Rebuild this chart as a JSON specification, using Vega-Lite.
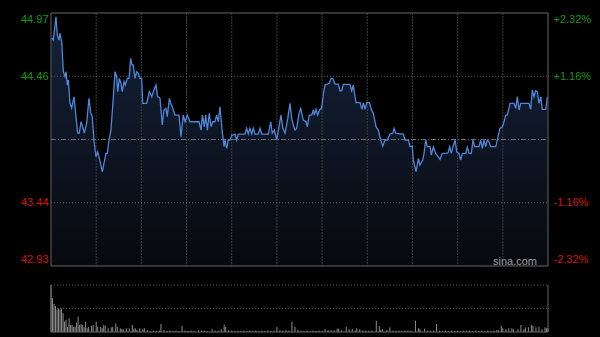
{
  "$schema": "https://vega.github.io/schema/vega-lite/v6.json",
  "width": 497,
  "height": 319,
  "autosize": {"type": "none"},
  "padding": {"left": 51, "top": 13, "right": 52, "bottom": 5},
  "background": "#000000",
  "config": {"view": {"stroke": null}, "font": "Liberation Sans"},
  "datasets": {
    "price": [
      {"t":0.5,"p":44.766},{"t":1.5,"p":44.752},{"t":3.3,"p":44.94},{"t":4.2,"p":44.793},{"t":5.3,"p":44.752},{"t":6.0,"p":44.806},{"t":7.1,"p":44.739},{"t":8.2,"p":44.497},{"t":9.3,"p":44.456},{"t":10.0,"p":44.497},{"t":10.8,"p":44.389},{"t":11.5,"p":44.43},{"t":12.6,"p":44.244},{"t":13.7,"p":44.204},{"t":15.3,"p":44.295},{"t":16.6,"p":44.134},{"t":17.7,"p":44.002},{"t":18.8,"p":44.002},{"t":19.9,"p":44.093},{"t":21.0,"p":44.053},{"t":22.1,"p":44.002},{"t":23.7,"p":44.083},{"t":25.2,"p":44.282},{"t":26.4,"p":44.164},{"t":27.4,"p":44.134},{"t":28.6,"p":43.932},{"t":29.9,"p":43.811},{"t":31.0,"p":43.851},{"t":32.1,"p":43.798},{"t":34.1,"p":43.69},{"t":35.4,"p":43.771},{"t":36.5,"p":43.838},{"t":37.4,"p":43.838},{"t":38.5,"p":43.946},{"t":39.8,"p":44.026},{"t":41.4,"p":44.295},{"t":42.5,"p":44.497},{"t":43.6,"p":44.456},{"t":44.3,"p":44.335},{"t":45.4,"p":44.443},{"t":46.5,"p":44.403},{"t":47.3,"p":44.335},{"t":48.5,"p":44.416},{"t":49.3,"p":44.389},{"t":50.7,"p":44.443},{"t":51.8,"p":44.443},{"t":52.9,"p":44.605},{"t":53.8,"p":44.551},{"t":54.6,"p":44.551},{"t":55.8,"p":44.443},{"t":56.9,"p":44.497},{"t":58.0,"p":44.484},{"t":59.1,"p":44.443},{"t":60.2,"p":44.443},{"t":60.9,"p":44.242},{"t":63.5,"p":44.242},{"t":65.3,"p":44.335},{"t":66.9,"p":44.295},{"t":67.9,"p":44.335},{"t":69.7,"p":44.389},{"t":70.8,"p":44.295},{"t":72.4,"p":44.282},{"t":73.9,"p":44.067},{"t":75.0,"p":44.188},{"t":76.4,"p":44.201},{"t":77.2,"p":44.134},{"t":78.6,"p":44.282},{"t":79.5,"p":44.242},{"t":80.5,"p":44.214},{"t":82.3,"p":44.147},{"t":83.5,"p":44.147},{"t":85.0,"p":44.147},{"t":86.3,"p":43.972},{"t":87.8,"p":44.147},{"t":89.0,"p":44.093},{"t":90.5,"p":44.147},{"t":92.3,"p":44.093},{"t":95.6,"p":44.093},{"t":98.3,"p":44.093},{"t":99.6,"p":44.026},{"t":100.5,"p":44.147},{"t":101.8,"p":44.053},{"t":102.7,"p":44.147},{"t":103.8,"p":44.026},{"t":105.1,"p":44.161},{"t":106.2,"p":44.053},{"t":107.4,"p":44.093},{"t":108.9,"p":44.093},{"t":110.0,"p":44.147},{"t":111.1,"p":44.093},{"t":112.2,"p":44.214},{"t":113.7,"p":44.013},{"t":114.9,"p":43.892},{"t":115.5,"p":43.946},{"t":116.7,"p":43.879},{"t":117.7,"p":43.946},{"t":118.9,"p":43.946},{"t":120.0,"p":43.986},{"t":121.0,"p":43.986},{"t":122.2,"p":43.994},{"t":123.3,"p":43.946},{"t":124.4,"p":43.994},{"t":128.8,"p":43.994},{"t":129.9,"p":44.04},{"t":131.0,"p":43.994},{"t":132.1,"p":44.04},{"t":133.3,"p":43.994},{"t":134.3,"p":44.04},{"t":135.5,"p":43.994},{"t":137.6,"p":43.994},{"t":138.8,"p":44.04},{"t":139.9,"p":43.994},{"t":144.3,"p":43.994},{"t":145.9,"p":44.093},{"t":146.9,"p":44.0},{"t":148.3,"p":44.026},{"t":149.9,"p":43.946},{"t":151.4,"p":44.053},{"t":152.7,"p":44.147},{"t":154.0,"p":44.04},{"t":155.4,"p":44.0},{"t":157.2,"p":44.121},{"t":158.7,"p":44.242},{"t":159.8,"p":44.121},{"t":160.9,"p":44.067},{"t":162.0,"p":44.026},{"t":163.1,"p":44.04},{"t":164.7,"p":44.161},{"t":165.8,"p":44.201},{"t":166.5,"p":44.161},{"t":167.5,"p":44.107},{"t":169.3,"p":44.093},{"t":170.2,"p":44.053},{"t":171.5,"p":44.147},{"t":173.1,"p":44.147},{"t":174.2,"p":44.188},{"t":174.8,"p":44.147},{"t":176.0,"p":44.193},{"t":177.1,"p":44.147},{"t":178.2,"p":44.188},{"t":179.7,"p":44.201},{"t":180.8,"p":44.309},{"t":181.9,"p":44.389},{"t":184.8,"p":44.403},{"t":185.9,"p":44.443},{"t":187.1,"p":44.443},{"t":188.6,"p":44.397},{"t":190.8,"p":44.397},{"t":191.9,"p":44.343},{"t":193.0,"p":44.343},{"t":194.1,"p":44.395},{"t":198.5,"p":44.395},{"t":199.7,"p":44.343},{"t":200.7,"p":44.389},{"t":202.5,"p":44.247},{"t":205.2,"p":44.247},{"t":206.5,"p":44.193},{"t":207.4,"p":44.247},{"t":208.5,"p":44.193},{"t":209.6,"p":44.247},{"t":211.4,"p":44.247},{"t":212.9,"p":44.188},{"t":214.0,"p":44.161},{"t":215.8,"p":44.053},{"t":217.3,"p":44.026},{"t":218.9,"p":43.946},{"t":220.3,"p":43.897},{"t":221.8,"p":43.946},{"t":223.3,"p":43.946},{"t":225.1,"p":43.994},{"t":226.9,"p":44.0},{"t":227.8,"p":44.04},{"t":228.9,"p":44.0},{"t":233.9,"p":43.994},{"t":235.1,"p":43.946},{"t":237.3,"p":43.946},{"t":238.4,"p":43.892},{"t":239.9,"p":43.897},{"t":240.6,"p":43.784},{"t":242.4,"p":43.69},{"t":243.9,"p":43.798},{"t":245.0,"p":43.744},{"t":246.8,"p":43.784},{"t":247.7,"p":43.838},{"t":248.8,"p":43.946},{"t":249.9,"p":43.892},{"t":251.7,"p":43.892},{"t":252.5,"p":43.825},{"t":253.9,"p":43.892},{"t":255.4,"p":43.838},{"t":257.0,"p":43.811},{"t":258.3,"p":43.79},{"t":259.8,"p":43.838},{"t":262.1,"p":43.838},{"t":263.6,"p":43.843},{"t":264.7,"p":43.892},{"t":265.8,"p":43.838},{"t":266.9,"p":43.892},{"t":268.3,"p":43.946},{"t":269.4,"p":43.851},{"t":270.9,"p":43.838},{"t":272.0,"p":43.784},{"t":273.1,"p":43.838},{"t":275.4,"p":43.838},{"t":276.4,"p":43.887},{"t":277.6,"p":43.838},{"t":279.1,"p":43.838},{"t":280.2,"p":43.946},{"t":281.3,"p":43.892},{"t":284.2,"p":43.892},{"t":285.3,"p":43.946},{"t":286.4,"p":43.879},{"t":287.5,"p":43.946},{"t":288.6,"p":43.892},{"t":289.7,"p":43.946},{"t":290.8,"p":43.932},{"t":292.0,"p":43.892},{"t":295.3,"p":43.892},{"t":296.8,"p":43.972},{"t":298.1,"p":44.04},{"t":299.7,"p":44.053},{"t":300.8,"p":44.093},{"t":301.9,"p":44.147},{"t":303.0,"p":44.147},{"t":304.8,"p":44.242},{"t":307.4,"p":44.242},{"t":308.6,"p":44.201},{"t":309.6,"p":44.295},{"t":310.8,"p":44.188},{"t":311.9,"p":44.242},{"t":317.4,"p":44.242},{"t":318.5,"p":44.193},{"t":319.6,"p":44.349},{"t":320.7,"p":44.295},{"t":321.8,"p":44.343},{"t":322.9,"p":44.335},{"t":324.0,"p":44.242},{"t":325.2,"p":44.295},{"t":326.2,"p":44.193},{"t":328.5,"p":44.193},{"t":329.6,"p":44.295}
    ],
    "vol": [
      {"t":0,"v":100},{"t":1,"v":72},{"t":2,"v":60},{"t":3,"v":55},{"t":4,"v":48},{"t":5,"v":50},{"t":6,"v":48},{"t":7,"v":50},{"t":8,"v":40},{"t":9,"v":22},{"t":10,"v":26},{"t":11,"v":11},{"t":12,"v":29},{"t":13,"v":15},{"t":14,"v":15},{"t":15,"v":11},{"t":16,"v":11},{"t":17,"v":20},{"t":18,"v":33},{"t":19,"v":15},{"t":20,"v":17},{"t":21,"v":15},{"t":22,"v":10},{"t":23,"v":22},{"t":24,"v":8},{"t":25,"v":11},{"t":27,"v":13},{"t":28,"v":15},{"t":30,"v":22},{"t":31,"v":11},{"t":33,"v":11},{"t":34,"v":8},{"t":35,"v":15},{"t":36,"v":13},{"t":38,"v":8},{"t":40,"v":10},{"t":41,"v":11},{"t":43,"v":18},{"t":44,"v":11},{"t":46,"v":8},{"t":47,"v":6},{"t":48,"v":6},{"t":50,"v":8},{"t":52,"v":8},{"t":54,"v":15},{"t":55,"v":6},{"t":56,"v":8},{"t":57,"v":4},{"t":59,"v":8},{"t":61,"v":6},{"t":62,"v":8},{"t":64,"v":4},{"t":66,"v":2},{"t":68,"v":3},{"t":70,"v":2},{"t":72,"v":3},{"t":73,"v":17},{"t":75,"v":4},{"t":77,"v":2},{"t":79,"v":3},{"t":81,"v":2},{"t":83,"v":3},{"t":85,"v":2},{"t":87,"v":13},{"t":89,"v":3},{"t":91,"v":2},{"t":93,"v":3},{"t":95,"v":2},{"t":98,"v":4},{"t":100,"v":3},{"t":102,"v":3},{"t":104,"v":2},{"t":107,"v":6},{"t":109,"v":3},{"t":111,"v":3},{"t":113,"v":6},{"t":115,"v":15},{"t":116,"v":11},{"t":118,"v":4},{"t":120,"v":3},{"t":122,"v":2},{"t":124,"v":3},{"t":126,"v":2},{"t":128,"v":3},{"t":130,"v":2},{"t":132,"v":3},{"t":134,"v":2},{"t":136,"v":3},{"t":138,"v":2},{"t":140,"v":3},{"t":142,"v":2},{"t":144,"v":3},{"t":146,"v":2},{"t":148,"v":3},{"t":150,"v":11},{"t":152,"v":4},{"t":154,"v":3},{"t":156,"v":4},{"t":158,"v":3},{"t":160,"v":22},{"t":162,"v":11},{"t":164,"v":4},{"t":166,"v":3},{"t":168,"v":2},{"t":170,"v":3},{"t":172,"v":2},{"t":174,"v":3},{"t":176,"v":2},{"t":178,"v":3},{"t":180,"v":2},{"t":182,"v":6},{"t":184,"v":4},{"t":186,"v":4},{"t":188,"v":4},{"t":190,"v":7},{"t":191,"v":7},{"t":193,"v":4},{"t":196,"v":11},{"t":198,"v":6},{"t":200,"v":6},{"t":202,"v":3},{"t":203,"v":8},{"t":205,"v":6},{"t":207,"v":3},{"t":209,"v":3},{"t":211,"v":3},{"t":213,"v":3},{"t":216,"v":24},{"t":218,"v":13},{"t":219,"v":4},{"t":220,"v":6},{"t":223,"v":4},{"t":225,"v":10},{"t":227,"v":3},{"t":229,"v":3},{"t":231,"v":3},{"t":233,"v":2},{"t":235,"v":3},{"t":237,"v":3},{"t":239,"v":3},{"t":242,"v":24},{"t":244,"v":8},{"t":245,"v":6},{"t":248,"v":7},{"t":250,"v":3},{"t":252,"v":3},{"t":254,"v":3},{"t":256,"v":17},{"t":258,"v":3},{"t":260,"v":2},{"t":262,"v":3},{"t":264,"v":2},{"t":266,"v":3},{"t":268,"v":2},{"t":270,"v":3},{"t":272,"v":2},{"t":274,"v":3},{"t":276,"v":2},{"t":278,"v":3},{"t":280,"v":2},{"t":282,"v":3},{"t":284,"v":2},{"t":286,"v":3},{"t":288,"v":2},{"t":290,"v":3},{"t":292,"v":2},{"t":294,"v":3},{"t":296,"v":4},{"t":297,"v":4},{"t":299,"v":13},{"t":300,"v":8},{"t":302,"v":6},{"t":304,"v":8},{"t":306,"v":8},{"t":307,"v":6},{"t":310,"v":6},{"t":312,"v":15},{"t":314,"v":6},{"t":315,"v":10},{"t":317,"v":10},{"t":319,"v":15},{"t":320,"v":13},{"t":322,"v":10},{"t":324,"v":11},{"t":326,"v":6},{"t":328,"v":10},{"t":329,"v":8},{"t":330,"v":8}
    ],
    "vgrid": [{"t":30,"lo":42.93,"hi":44.97},{"t":60,"lo":42.93,"hi":44.97},{"t":90,"lo":42.93,"hi":44.97},{"t":120,"lo":42.93,"hi":44.97},{"t":150,"lo":42.93,"hi":44.97},{"t":180,"lo":42.93,"hi":44.97},{"t":210,"lo":42.93,"hi":44.97},{"t":240,"lo":42.93,"hi":44.97},{"t":270,"lo":42.93,"hi":44.97},{"t":300,"lo":42.93,"hi":44.97}],
    "hgrid": [{"p":44.46,"a":0,"b":330},{"p":43.44,"a":0,"b":330}],
    "mid": [{"p":43.95,"a":0,"b":330}],
    "frame": [{"a":0,"b":330,"lo":42.93,"hi":44.97}],
    "wm": [{"s":"sina.com","t":330,"p":42.93}],
    "vlines": [{"v":50,"a":0,"b":330},{"v":100,"a":0,"b":330}],
    "vbase": [{"v":0,"a":0,"b":330}],
    "vside": [{"t":0,"lo":0,"hi":100},{"t":330,"lo":0,"hi":100}]
  },
  "resolve": {"scale": {"y": "independent"}},
  "layer": [
    {
      "data": {"name": "price"},
      "mark": {"type": "area", "color": {"gradient": "linear", "x1": 0, "y1": 1, "x2": 0, "y2": 0, "stops": [{"offset": 0, "color": "#07090d"}, {"offset": 1, "color": "#15223b"}]}},
      "encoding": {
        "x": {"field": "t", "type": "quantitative", "scale": {"domain": [0, 330], "nice": false, "zero": false}, "axis": null},
        "y": {"field": "p", "type": "quantitative", "scale": {"domain": [42.3978, 44.97], "nice": false, "zero": false},
          "axis": {"orient": "left", "values": [42.93, 43.44, 44.46, 44.97], "format": ".2f", "ticks": false, "domain": false, "grid": false, "title": null, "labelPadding": 3, "labelFontSize": 11, "labelFont": "Liberation Sans", "labelFlush": true,
            "labelOffset": {"condition": {"test": "datum.value < 43", "value": -6}, "value": 0},
            "labelColor": {"condition": {"test": "datum.value > 43.95", "value": "#129812"}, "value": "#d41410"}}},
        "y2": {"datum": 42.93}
      }
    },
    {
      "data": {"name": "price"},
      "mark": {"type": "point", "opacity": 0},
      "encoding": {
        "x": {"field": "t", "type": "quantitative", "axis": null},
        "y": {"field": "p", "type": "quantitative", "scale": {"domain": [42.3978, 44.97], "nice": false, "zero": false},
          "axis": {"orient": "right", "values": [42.93, 43.44, 44.46, 44.97], "ticks": false, "domain": false, "grid": false, "title": null, "labelPadding": 5, "labelFontSize": 11, "labelFont": "Liberation Sans", "labelFlush": true,
            "labelExpr": "(datum.value > 43.95 ? '+' : '-') + format(abs(datum.value / 43.95 - 1) * 100, '.2f') + '%'",
            "labelOffset": {"condition": {"test": "datum.value < 43", "value": -6}, "value": 0},
            "labelColor": {"condition": {"test": "datum.value > 43.95", "value": "#129812"}, "value": "#d41410"}}}
      }
    },
    {
      "data": {"name": "vgrid"},
      "mark": {"type": "rule", "color": "#3e3e3e", "strokeDash": [2, 1]},
      "encoding": {"x": {"field": "t", "type": "quantitative", "axis": null}, "y": {"field": "hi", "type": "quantitative", "scale": {"domain": [42.3978, 44.97], "nice": false, "zero": false}, "axis": null}, "y2": {"field": "lo"}}
    },
    {
      "data": {"name": "hgrid"},
      "mark": {"type": "rule", "color": "#5a5a5a", "strokeDash": [1, 2]},
      "encoding": {"y": {"field": "p", "type": "quantitative", "scale": {"domain": [42.3978, 44.97], "nice": false, "zero": false}, "axis": null}, "x": {"field": "a", "type": "quantitative", "axis": null}, "x2": {"field": "b"}}
    },
    {
      "data": {"name": "mid"},
      "mark": {"type": "rule", "color": "#6e6e6e", "strokeDash": [5, 2, 1, 2]},
      "encoding": {"y": {"field": "p", "type": "quantitative", "scale": {"domain": [42.3978, 44.97], "nice": false, "zero": false}, "axis": null}, "x": {"field": "a", "type": "quantitative", "axis": null}, "x2": {"field": "b"}}
    },
    {
      "data": {"name": "price"},
      "mark": {"type": "line", "color": "#4f86d8", "strokeWidth": 1.3},
      "encoding": {"x": {"field": "t", "type": "quantitative", "axis": null}, "y": {"field": "p", "type": "quantitative", "scale": {"domain": [42.3978, 44.97], "nice": false, "zero": false}, "axis": null}}
    },
    {
      "data": {"name": "frame"},
      "mark": {"type": "rect", "fillOpacity": 0, "stroke": "#666666", "strokeWidth": 1},
      "encoding": {"x": {"field": "a", "type": "quantitative", "axis": null}, "x2": {"field": "b"}, "y": {"field": "hi", "type": "quantitative", "scale": {"domain": [42.3978, 44.97], "nice": false, "zero": false}, "axis": null}, "y2": {"field": "lo"}}
    },
    {
      "data": {"name": "wm"},
      "mark": {"type": "text", "align": "right", "baseline": "alphabetic", "dx": -11, "dy": -1, "fontSize": 11, "color": "#9a9a9a", "font": "Liberation Sans"},
      "encoding": {"text": {"field": "s"}, "x": {"field": "t", "type": "quantitative", "axis": null}, "y": {"field": "p", "type": "quantitative", "scale": {"domain": [42.3978, 44.97], "nice": false, "zero": false}, "axis": null}}
    },
    {
      "data": {"name": "vol"},
      "mark": {"type": "rule", "color": "#8c8c8c", "strokeWidth": 1},
      "encoding": {
        "x": {"field": "t", "type": "quantitative", "axis": null},
        "y": {"field": "v", "type": "quantitative", "scale": {"domain": [0, 678.7], "nice": false, "zero": false}, "axis": null},
        "y2": {"datum": 0}
      }
    },
    {
      "data": {"name": "vlines"},
      "mark": {"type": "rule", "color": "#5a5a5a", "strokeDash": [1, 2]},
      "encoding": {"y": {"field": "v", "type": "quantitative", "scale": {"domain": [0, 678.7], "nice": false, "zero": false}, "axis": null}, "x": {"field": "a", "type": "quantitative", "axis": null}, "x2": {"field": "b"}}
    },
    {
      "data": {"name": "vbase"},
      "mark": {"type": "rule", "color": "#666666"},
      "encoding": {"y": {"field": "v", "type": "quantitative", "scale": {"domain": [0, 678.7], "nice": false, "zero": false}, "axis": null}, "x": {"field": "a", "type": "quantitative", "axis": null}, "x2": {"field": "b"}}
    },
    {
      "data": {"name": "vside"},
      "mark": {"type": "rule", "color": "#666666"},
      "encoding": {"x": {"field": "t", "type": "quantitative", "axis": null}, "y": {"field": "lo", "type": "quantitative", "scale": {"domain": [0, 678.7], "nice": false, "zero": false}, "axis": null}, "y2": {"field": "hi"}}
    }
  ]
}
